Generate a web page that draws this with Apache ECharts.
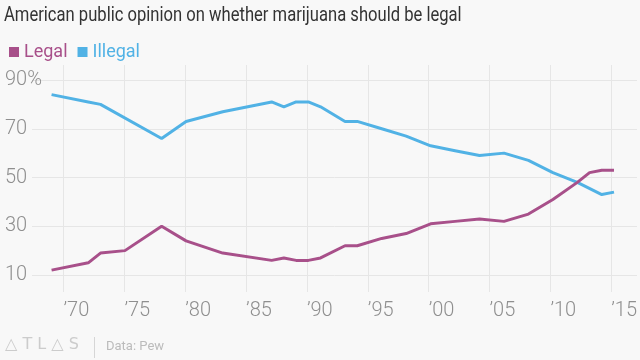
<!DOCTYPE html>
<html>
<head>
<meta charset="utf-8">
<script src="https://cdn.jsdelivr.net/npm/echarts@6/dist/echarts.min.js"></script>
<style>
html,body{margin:0;padding:0;background:#f8f8f8;}
#chart{width:640px;height:360px;}
</style>
</head>
<body>
<div id="chart"></div>
<script>
// Data (Pew)
var legalYears   = [1969, 1972, 1973, 1975, 1978, 1980, 1983, 1987, 1988, 1989, 1990, 1991, 1993, 1994, 1996, 1998, 2000, 2002, 2004, 2006, 2008, 2010, 2012, 2013, 2014, 2015];
var legalValues  = [12,   15,   19,   20,   30,   24,   19,   16,   17,   16,   16,   17,   22,   22,   25,   27,   31,   32,   33,   32,   35,   41,   48,   52,   53,   53];
var illegalYears = [1969, 1972, 1973, 1978, 1980, 1983, 1987, 1988, 1989, 1990, 1991, 1993, 1994, 1996, 1998, 2000, 2002, 2004, 2006, 2008, 2010, 2012, 2014, 2015];
var illegalValues= [84,   81,   80,   66,   73,   77,   81,   79,   81,   81,   79,   73,   73,   70,   67,   63,   61,   59,   60,   57,   52,   48,   43,   44];
var yTicks = [10, 30, 50, 70, 90];
var xTickYears = [1970, 1975, 1980, 1985, 1990, 1995, 2000, 2005, 2010, 2015];

var LEGAL_COLOR = '#a8508a';
var ILLEGAL_COLOR = '#51b2e5';

function pairs(xs, ys) { return xs.map(function (x, i) { return [x, ys[i]]; }); }

var chart = echarts.init(document.getElementById('chart'), null, {renderer: 'canvas'});

var pxPerYear = 12.227;
var x1970 = 63.8;
var rightEdge = 637;
var xMax = 1970 + (rightEdge - x1970) / pxPerYear;
var dataGridLeft = 32;
var dataXMin = 1970 - (x1970 - dataGridLeft) / pxPerYear;
var tickGridLeft = x1970 - 5 * pxPerYear;

var option = {
  backgroundColor: '#f8f8f8',
  animation: false,
  legend: {
    left: 4, top: 38,
    icon: 'rect', itemWidth: 10, itemHeight: 10, itemGap: 10,
    textStyle: {fontFamily: 'Roboto', fontSize: 18},
    data: [
      {name: 'Legal', textStyle: {color: LEGAL_COLOR}},
      {name: 'Illegal', textStyle: {color: ILLEGAL_COLOR}}
    ]
  },
  grid: [
    {left: dataGridLeft, right: 640 - rightEdge, top: 80, height: 195},
    {left: tickGridLeft, right: 640 - rightEdge, top: 65, height: 227}
  ],
  xAxis: [
    {
      gridIndex: 0, type: 'value', min: dataXMin, max: xMax,
      axisLine: {show: false}, axisTick: {show: false}, axisLabel: {show: false}, splitLine: {show: false}
    },
    {
      gridIndex: 1, type: 'value', min: 1965, max: xMax, interval: 5,
      axisLine: {show: false}, axisTick: {show: false},
      splitLine: {show: true, showMinLine: false, showMaxLine: false, lineStyle: {color: '#e6e6e6', width: 1}},
      axisLabel: {
        show: true, showMinLabel: false, showMaxLabel: false, margin: 9, align: 'left',
        fontFamily: 'Roboto', fontWeight: 300, fontSize: 20, color: '#8f8f8f',
        formatter: function (v) {
          if (xTickYears.indexOf(Math.round(v)) < 0 || Math.abs(v - Math.round(v)) > 1e-6) return '';
          var s = String(Math.round(v)).slice(2);
          return '\u2019' + s;
        }
      }
    }
  ],
  yAxis: [
    {
      gridIndex: 0, type: 'value', min: yTicks[0], max: yTicks[yTicks.length - 1], interval: 20,
      axisLine: {show: false}, axisTick: {show: false},
      splitLine: {show: true, lineStyle: {color: '#e6e6e6', width: 1}},
      axisLabel: {
        show: true, margin: 27, align: 'left',
        fontFamily: 'Roboto', fontWeight: 300, fontSize: 20, color: '#8f8f8f',
        formatter: function (v) { return v === yTicks[yTicks.length - 1] ? v + '%' : String(v); }
      }
    },
    {
      gridIndex: 1, type: 'value', min: 0, max: 1,
      show: false
    }
  ],
  series: [
    {
      name: 'Legal', type: 'line', xAxisIndex: 0, yAxisIndex: 0,
      data: pairs(legalYears, legalValues),
      showSymbol: false, symbol: 'none', color: LEGAL_COLOR,
      lineStyle: {width: 3, color: LEGAL_COLOR}, z: 3
    },
    {
      name: 'Illegal', type: 'line', xAxisIndex: 0, yAxisIndex: 0,
      data: pairs(illegalYears, illegalValues),
      showSymbol: false, symbol: 'none', color: ILLEGAL_COLOR,
      lineStyle: {width: 3, color: ILLEGAL_COLOR}, z: 2
    }
  ],
  graphic: [
    {type: 'text', left: 4, top: 6, scaleX: 0.83,
     style: {text: 'American public opinion on whether marijuana should be legal', fontFamily: 'Roboto', fontSize: 20, fill: '#333333'}},
    {type: 'text', left: 5, top: 337, style: {text: '\u25B3 T L \u25B3 S', fontFamily: 'DejaVu Sans', fontSize: 16, fontWeight: 'normal', fill: '#cccccc'}},
    {type: 'rect', left: 94, top: 337, shape: {width: 1, height: 21}, style: {fill: '#d6d6d6'}},
    {type: 'text', left: 106, top: 340, style: {text: 'Data: Pew', fontFamily: 'Roboto', fontSize: 13, fill: '#bbbbbb'}}
  ]
};
chart.setOption(option);
</script>
</body>
</html>
